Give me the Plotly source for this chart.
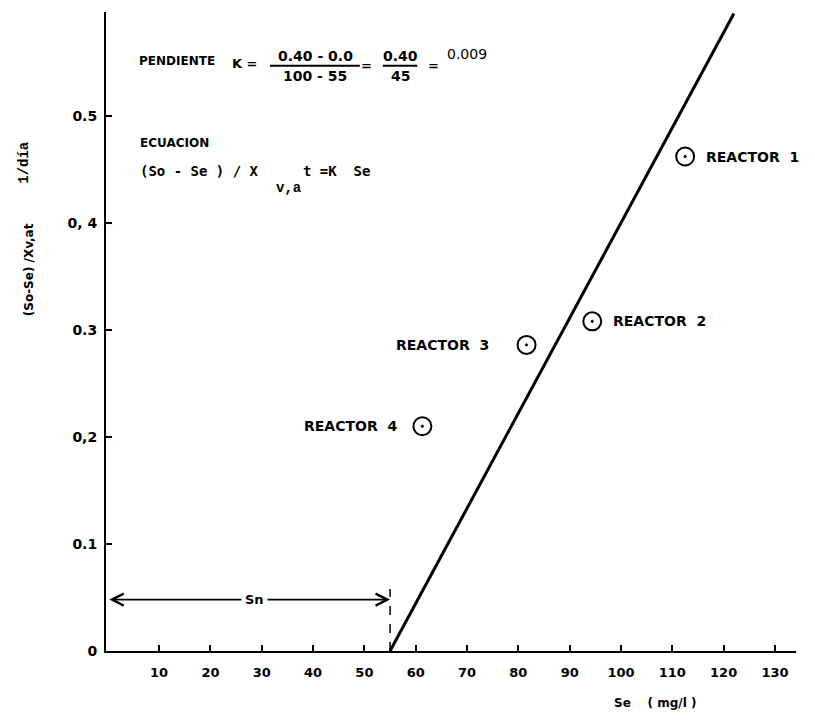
import plotly.graph_objects as go

# Reactor results: effluent substrate Se (mg/l) vs specific removal rate (1/día)
reactors = ["REACTOR\u00a0\u00a01", "REACTOR\u00a0\u00a02", "REACTOR\u00a0\u00a03", "REACTOR\u00a0\u00a04"]
se_values = [112.5, 94.4, 81.6, 61.3]
rate_values = [0.462, 0.308, 0.286, 0.210]

# Fitted straight line: (So - Se)/Xv,a t = K (Se - Sn)
Sn = 55
K = (0.40 - 0.0) / (100 - 55)
se_line = [Sn, 122]
rate_line = [K * (s - Sn) for s in se_line]

x_ticks = [10, 20, 30, 40, 50, 60, 70, 80, 90, 100, 110, 120, 130]
x_tick_text = ["10", "20", "30", "40", "50", "60", "70", "80", "90", "100", "110", "120", "130"]
y_ticks = [0, 0.1, 0.2, 0.3, 0.4, 0.5]
y_tick_text = ["0", "0.1", "0,2", "0.3", "0, 4", "0.5"]

LETTER = dict(family="DejaVu Sans", size=13, color="black", weight="bold")
MONO_BOLD = dict(family="DejaVu Sans Mono", size=14, color="black", weight="bold")
TYPE = dict(family="Liberation Mono", size=14, color="black")

# label placement beside each reactor marker: (anchor, pixel shift)
label_place = [("left", 19), ("left", 19), ("right", -36), ("right", -23)]

fig = go.Figure()

fig.add_trace(go.Scatter(
    x=se_line, y=rate_line, mode="lines",
    line=dict(color="black", width=3), hoverinfo="skip", showlegend=False,
))

fig.add_trace(go.Scatter(
    x=[Sn, Sn], y=[0, 0.058], mode="lines",
    line=dict(color="black", width=1.5, dash="dash"), hoverinfo="skip", showlegend=False,
))

fig.add_trace(go.Scatter(
    x=se_values, y=rate_values, mode="markers",
    marker=dict(symbol="circle-open-dot", size=18, color="black", line=dict(width=2, color="black")),
    showlegend=False, cliponaxis=False,
))

annotations = []
for name, sx, ry, (anchor, shift) in zip(reactors, se_values, rate_values, label_place):
    annotations.append(dict(x=sx, y=ry, xref="x", yref="y", text=name, showarrow=False,
                            xanchor=anchor, xshift=shift, font=dict(LETTER, size=14)))

# Sn arrow
annotations.append(dict(x=Sn, y=0.048, ax=0, ay=0.048, xref="x", yref="y", axref="x", ayref="y",
                        text="", showarrow=True, arrowhead=5, startarrowhead=5, arrowside="end+start",
                        arrowwidth=1.8, arrowsize=1.3, startarrowsize=1.3, arrowcolor="black"))
annotations.append(dict(x=28.5, y=0.048, xref="x", yref="y", text="Sn", showarrow=False,
                        bgcolor="white", borderpad=3, font=dict(LETTER, size=13)))

# Slope calculation
annotations += [
    dict(x=5.7, y=0.551, text="PENDIENTE", xanchor="left", font=dict(LETTER, size=12)),
    dict(x=23.8, y=0.549, text="K =", xanchor="left", font=LETTER),
    dict(x=40.4, y=0.556, text="0.40 - 0.0", font=dict(LETTER, size=14)),
    dict(x=40.4, y=0.537, text="100 - 55", font=dict(LETTER, size=14)),
    dict(x=50.4, y=0.547, text="=", font=LETTER),
    dict(x=57.0, y=0.556, text="0.40", font=dict(LETTER, size=14)),
    dict(x=57.0, y=0.537, text="45", font=dict(LETTER, size=14)),
    dict(x=63.4, y=0.547, text="=", font=LETTER),
    dict(x=65.7, y=0.558, text="0.009", xanchor="left", font=dict(LETTER, weight="normal", size=14)),
    # Equation
    dict(x=5.9, y=0.4748, text="ECUACION", xanchor="left", font=dict(LETTER, size=12)),
    dict(x=5.9, y=0.4486, text="(So\u00a0-\u00a0Se\u00a0)\u00a0/\u00a0X", xanchor="left", font=MONO_BOLD),
    dict(x=32.3, y=0.4327, text="v,a", xanchor="left", font=TYPE),
    dict(x=37.6, y=0.4486, text="t\u00a0=K\u00a0\u00a0Se", xanchor="left", font=MONO_BOLD),
]

# Axis titles (placed in paper coordinates, outside the plotting area)
annotations += [
    dict(xref="paper", yref="paper", x=-0.112, y=0.597, xanchor="center", yanchor="middle",
         text="(So-Se) /Xv,at", textangle=-90, font=dict(LETTER, size=12)),
    dict(xref="paper", yref="paper", x=-0.118, y=0.765, xanchor="center", yanchor="middle",
         text="1/día", textangle=-90, font=TYPE),
    dict(xref="paper", yref="paper", x=0.733, y=-0.0814, xanchor="left", yanchor="middle",
         text="Se\u00a0\u00a0\u00a0\u00a0( mg/l )", font=dict(LETTER, size=12)),
]
for a in annotations:
    a.setdefault("xref", "x")
    a.setdefault("yref", "y")
    a.setdefault("showarrow", False)

# Fraction bars
shapes = [
    dict(type="line", xref="x", yref="y", x0=31.6, x1=49.1, y0=0.5467, y1=0.5467,
         line=dict(color="black", width=2)),
    dict(type="line", xref="x", yref="y", x0=53.6, x1=60.3, y0=0.5467, y1=0.5467,
         line=dict(color="black", width=2)),
]

fig.update_layout(
    width=815, height=720,
    margin=dict(l=106, r=19, t=12, b=69),
    paper_bgcolor="white", plot_bgcolor="white",
    font=LETTER,
    showlegend=False,
    annotations=annotations,
    shapes=shapes,
    xaxis=dict(
        range=[-0.35, 134.1], showline=True, linecolor="black", linewidth=2,
        ticks="inside", ticklen=6, tickwidth=1.5, tickcolor="black",
        tickvals=x_ticks, ticktext=x_tick_text, tickfont=dict(LETTER, size=13),
        ticklabelstandoff=8, showgrid=False, zeroline=False,
    ),
    yaxis=dict(
        range=[0, 0.597], showline=True, linecolor="black", linewidth=2,
        ticks="inside", ticklen=6, tickwidth=1.5, tickcolor="black",
        tickvals=y_ticks, ticktext=y_tick_text, tickfont=dict(LETTER, size=14),
        ticklabelstandoff=4, showgrid=False, zeroline=False,
    ),
)

fig.write_html("out.html")
